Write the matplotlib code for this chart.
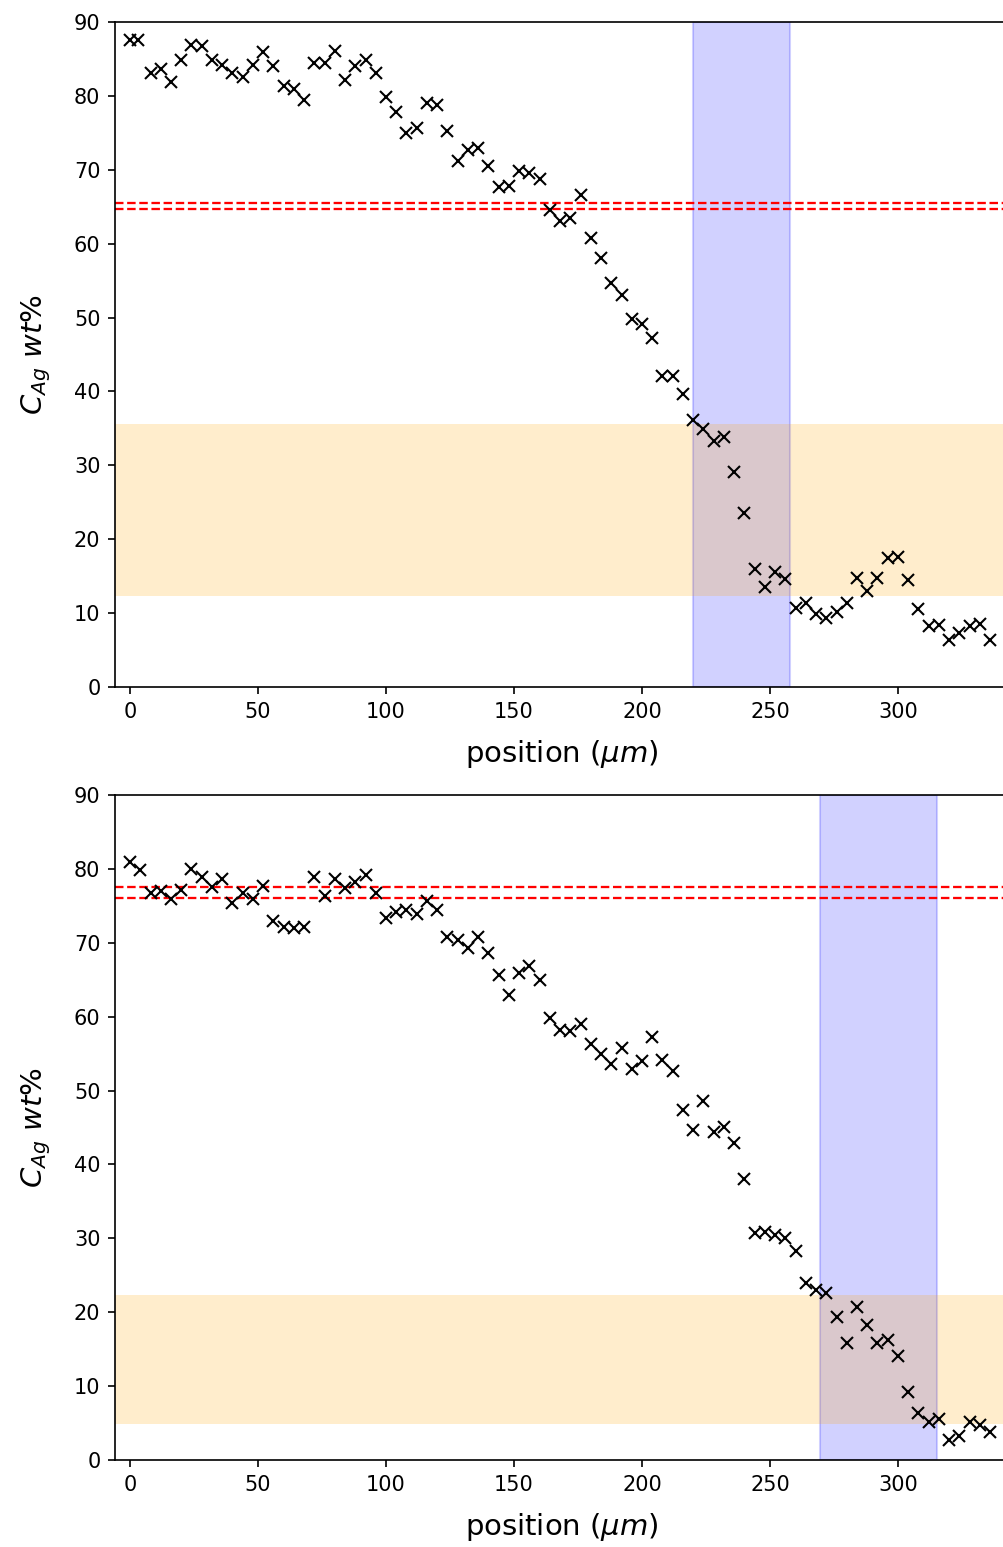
import numpy as np
import matplotlib
matplotlib.use("Agg")
import matplotlib.pyplot as plt

# perfil 1 : posições (um) e teor de Ag (wt%)
pos_1 = [0, 3, 8, 12, 16, 20, 24, 28, 32, 36, 40, 44, 48, 52, 56, 60, 64, 68,
         72, 76, 80, 84, 88, 92, 96, 100, 104, 108, 112, 116, 120, 124, 128,
         132, 136, 140, 144, 148, 152, 156, 160, 164, 168, 172, 176, 180, 184,
         188, 192, 196, 200, 204, 208, 212, 216, 220, 224, 228, 232, 236, 240,
         244, 248, 252, 256, 260, 264, 268, 272, 276, 280, 284, 288, 292, 296,
         300, 304, 308, 312, 316, 320, 324, 328, 332, 336]
c_ag_1 = [87.6, 87.6, 83.1, 83.7, 81.9, 84.8, 86.9, 86.7, 84.8, 84.2, 83.1,
          82.6, 84.2, 85.9, 84.0, 81.3, 80.9, 79.4, 84.4, 84.4, 86.1, 82.2,
          84.0, 84.8, 83.1, 79.8, 77.8, 75.0, 75.6, 79.0, 78.8, 75.3, 71.2,
          72.7, 72.9, 70.5, 67.7, 67.8, 69.8, 69.5, 68.8, 64.5, 63.0, 63.5,
          66.6, 60.7, 58.0, 54.7, 53.0, 49.8, 49.1, 47.2, 42.1, 42.1, 39.6,
          36.1, 34.9, 33.3, 33.9, 29.1, 23.5, 16.0, 13.5, 15.5, 14.6, 10.7,
          11.4, 9.9, 9.3, 10.1, 11.4, 14.7, 13.0, 14.7, 17.5, 17.6, 14.5,
          10.6, 8.3, 8.4, 6.4, 7.3, 8.2, 8.5, 6.4]

# perfil 2
pos_2 = [0, 4, 8, 12, 16, 20, 24, 28, 32, 36, 40, 44, 48, 52, 56, 60, 64, 68,
         72, 76, 80, 84, 88, 92, 96, 100, 104, 108, 112, 116, 120, 124, 128,
         132, 136, 140, 144, 148, 152, 156, 160, 164, 168, 172, 176, 180, 184,
         188, 192, 196, 200, 204, 208, 212, 216, 220, 224, 228, 232, 236, 240,
         244, 248, 252, 256, 260, 264, 268, 272, 276, 280, 284, 288, 292, 296,
         300, 304, 308, 312, 316, 320, 324, 328, 332, 336]
c_ag_2 = [81.0, 79.8, 76.7, 77.0, 75.9, 77.2, 80.0, 78.9, 77.6, 78.7, 75.4,
          76.7, 75.9, 77.7, 73.0, 72.2, 72.0, 72.2, 78.9, 76.4, 78.7, 77.4,
          78.2, 79.2, 76.7, 73.4, 74.2, 74.4, 73.9, 75.6, 74.4, 70.8, 70.4,
          69.3, 70.8, 68.6, 65.6, 62.9, 65.9, 66.9, 65.0, 59.8, 58.2, 58.0,
          59.0, 56.3, 54.9, 53.6, 55.7, 52.9, 54.0, 57.3, 54.1, 52.7, 47.4,
          44.7, 48.6, 44.4, 45.1, 42.9, 38.1, 30.7, 30.8, 30.4, 30.1, 28.3,
          24.0, 23.0, 22.6, 19.3, 15.8, 20.7, 18.3, 15.9, 16.3, 14.1, 9.2,
          6.4, 5.2, 5.6, 2.7, 3.2, 5.2, 4.7, 3.8]

# faixas: região da interface (x), faixa de composição (y), limites (linhas)
interface = [(220, 258), (269.5, 315.2)]
faixa_c = [(12.3, 35.6), (4.9, 22.3)]
limites = [(64.65, 65.5), (76.1, 77.6)]

fig = plt.figure(figsize=(1003 / 150, 1547 / 150), dpi=150)
caixas = [[0.1147, 0.5559, 0.8903, 0.4299],
          [0.1147, 0.0562, 0.8903, 0.4299]]

perfis = [(pos_1, c_ag_1), (pos_2, c_ag_2)]
for i, (pos, c) in enumerate(perfis):
    ax = fig.add_axes(caixas[i])
    ax.axvspan(*interface[i], color='blue', alpha=0.18)
    ax.axhspan(*faixa_c[i], color='orange', alpha=0.2, lw=0)
    for y in limites[i]:
        ax.axhline(y, color='r', linestyle='--', lw=1.1)
    ax.plot(pos, c, 'kx', markersize=6)
    ax.set_xlim(-5.86, 343)
    ax.set_ylim(0, 90)
    ax.spines['right'].set_visible(False)
    ax.set_xlabel(r"position ($\mu m$)", fontsize=14, labelpad=8)
    ax.set_ylabel(r"$C_{Ag}$ $wt\%$", fontsize=14, labelpad=10)

fig.savefig("out.png", dpi=150)
